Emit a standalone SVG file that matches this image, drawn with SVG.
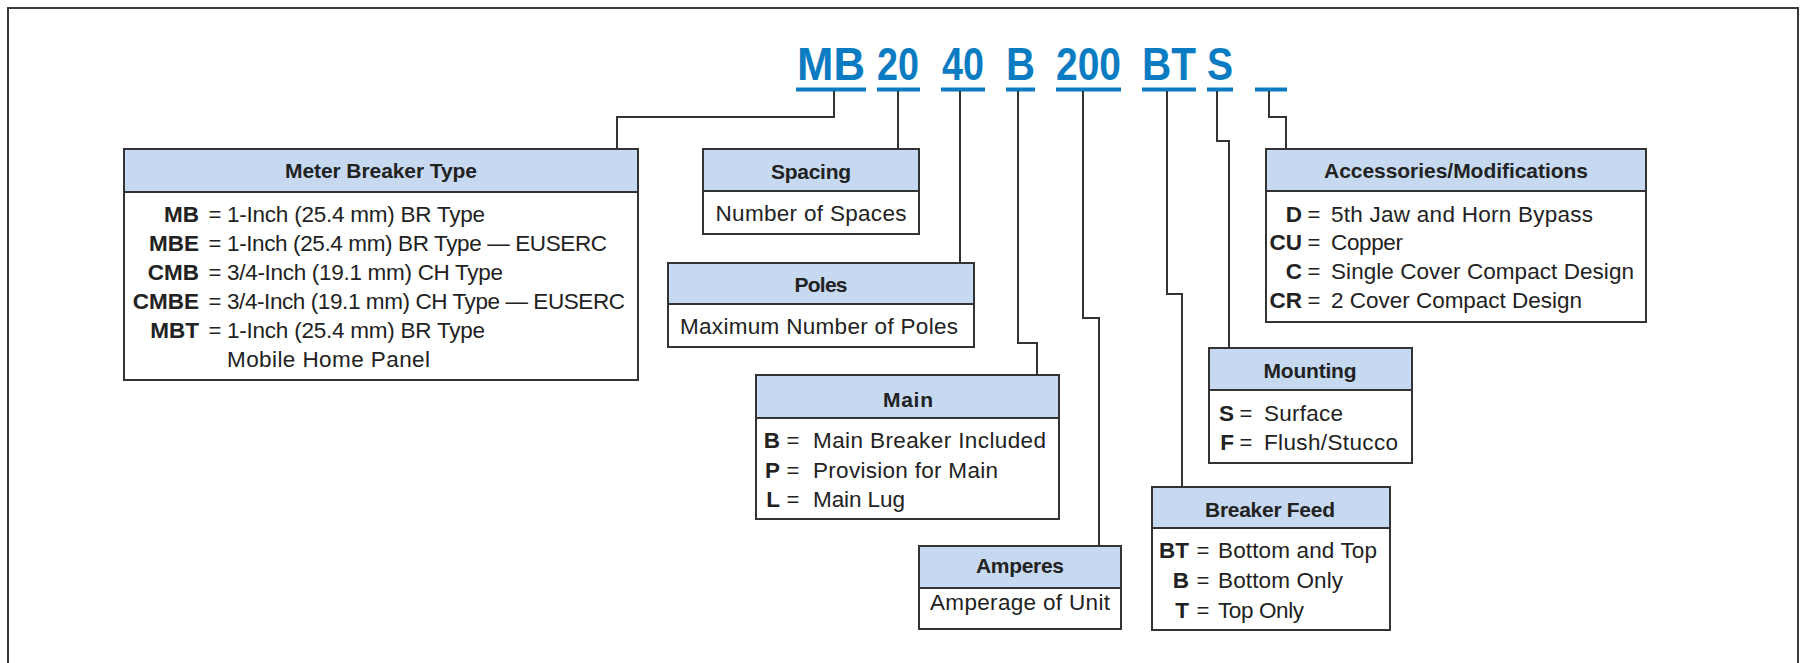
<svg xmlns="http://www.w3.org/2000/svg" width="1800" height="663" viewBox="0 0 1800 663">
<style>
.frame{fill:none;stroke:#3a3a3a;stroke-width:2}
.code{font-family:"Liberation Sans",Arial,sans-serif;font-weight:bold;font-size:46px;fill:#0b7cc2}
.ul{fill:#0b7cc2}
.conn{fill:none;stroke:#333;stroke-width:2}
.hdr{fill:#c6d9f0;stroke:#333;stroke-width:2}
.bdy{fill:#fff;stroke:#333;stroke-width:2}
.ht{font-family:"Liberation Sans",Arial,sans-serif;font-weight:bold;font-size:21px;fill:#222;text-anchor:middle}
.bt{font-family:"Liberation Sans",Arial,sans-serif;font-size:22.5px;fill:#222}
.bc{font-family:"Liberation Sans",Arial,sans-serif;font-weight:bold;font-size:22.5px;fill:#222;text-anchor:end}
.eq{font-family:"Liberation Sans",Arial,sans-serif;font-size:22px;fill:#222;text-anchor:middle}
.ctr{text-anchor:middle}
</style>
<rect width="1800" height="663" fill="#fff"/>
<path class="frame" d="M8,700 V8 H1798 V700"/>

<g id="code">
<text class="code" x="797" y="80" textLength="68" lengthAdjust="spacingAndGlyphs">MB</text>
<text class="code" x="877" y="80" textLength="42" lengthAdjust="spacingAndGlyphs">20</text>
<text class="code" x="942" y="80" textLength="42" lengthAdjust="spacingAndGlyphs">40</text>
<text class="code" x="1006" y="80" textLength="29" lengthAdjust="spacingAndGlyphs">B</text>
<text class="code" x="1056" y="80" textLength="65" lengthAdjust="spacingAndGlyphs">200</text>
<text class="code" x="1142" y="80" textLength="54" lengthAdjust="spacingAndGlyphs">BT</text>
<text class="code" x="1207" y="80" textLength="26" lengthAdjust="spacingAndGlyphs">S</text>
<rect class="ul" x="796" y="87.5" width="70" height="4"/>
<rect class="ul" x="877" y="87.5" width="43" height="4"/>
<rect class="ul" x="941" y="87.5" width="44" height="4"/>
<rect class="ul" x="1006" y="87.5" width="29" height="4"/>
<rect class="ul" x="1056" y="87.5" width="65" height="4"/>
<rect class="ul" x="1142" y="87.5" width="54" height="4"/>
<rect class="ul" x="1207" y="87.5" width="26" height="4"/>
<rect class="ul" x="1255" y="87.5" width="32" height="4"/>
</g>

<g id="connectors">
<path class="conn" d="M834,91 V117 H617 V149"/>
<path class="conn" d="M898,91 V149"/>
<path class="conn" d="M960,91 V263"/>
<path class="conn" d="M1018,91 V343 H1037 V375"/>
<path class="conn" d="M1083,91 V318 H1099 V546"/>
<path class="conn" d="M1167,91 V294 H1182 V487"/>
<path class="conn" d="M1217,91 V141 H1229 V348"/>
<path class="conn" d="M1269,91 V117 H1286 V149"/>
</g>

<g id="meter-breaker-type">
<rect class="bdy" x="124" y="149" width="514" height="231"/>
<rect class="hdr" x="124" y="149" width="514" height="43"/>
<text class="ht" x="381" y="178" textLength="192">Meter Breaker Type</text>
<text class="bc" x="199" y="222">MB</text><text class="eq" x="215" y="222">=</text><text class="bt" x="227" y="222" textLength="258">1-Inch (25.4 mm) BR Type</text>
<text class="bc" x="199" y="251">MBE</text><text class="eq" x="215" y="251">=</text><text class="bt" x="227" y="251" textLength="380">1-Inch (25.4 mm) BR Type — EUSERC</text>
<text class="bc" x="199" y="280">CMB</text><text class="eq" x="215" y="280">=</text><text class="bt" x="227" y="280" textLength="276">3/4-Inch (19.1 mm) CH Type</text>
<text class="bc" x="199" y="309">CMBE</text><text class="eq" x="215" y="309">=</text><text class="bt" x="227" y="309" textLength="398">3/4-Inch (19.1 mm) CH Type — EUSERC</text>
<text class="bc" x="199" y="338">MBT</text><text class="eq" x="215" y="338">=</text><text class="bt" x="227" y="338" textLength="258">1-Inch (25.4 mm) BR Type</text>
<text class="bt" x="227" y="367" textLength="203">Mobile Home Panel</text>
</g>

<g id="spacing">
<rect class="bdy" x="703" y="149" width="216" height="85"/>
<rect class="hdr" x="703" y="149" width="216" height="42"/>
<text class="ht" x="811" y="179" textLength="80">Spacing</text>
<text class="bt ctr" x="811" y="221" textLength="191">Number of Spaces</text>
</g>

<g id="poles">
<rect class="bdy" x="668" y="263" width="306" height="84"/>
<rect class="hdr" x="668" y="263" width="306" height="41"/>
<text class="ht" x="821" y="292" textLength="53">Poles</text>
<text class="bt ctr" x="819" y="334" textLength="278">Maximum Number of Poles</text>
</g>

<g id="main">
<rect class="bdy" x="756" y="375" width="303" height="144"/>
<rect class="hdr" x="756" y="375" width="303" height="43"/>
<text class="ht" x="908" y="407" textLength="50">Main</text>
<text class="bc" x="780" y="448">B</text><text class="eq" x="793" y="448">=</text><text class="bt" x="813" y="448" textLength="233">Main Breaker Included</text>
<text class="bc" x="780" y="478">P</text><text class="eq" x="793" y="478">=</text><text class="bt" x="813" y="478" textLength="185">Provision for Main</text>
<text class="bc" x="780" y="507">L</text><text class="eq" x="793" y="507">=</text><text class="bt" x="813" y="507" textLength="92">Main Lug</text>
</g>

<g id="amperes">
<rect class="bdy" x="919" y="546" width="202" height="83"/>
<rect class="hdr" x="919" y="546" width="202" height="42"/>
<text class="ht" x="1020" y="573" textLength="88">Amperes</text>
<text class="bt ctr" x="1020" y="610" textLength="180">Amperage of Unit</text>
</g>

<g id="breaker-feed">
<rect class="bdy" x="1152" y="487" width="238" height="143"/>
<rect class="hdr" x="1152" y="487" width="238" height="41"/>
<text class="ht" x="1270" y="517" textLength="130">Breaker Feed</text>
<text class="bc" x="1189" y="558">BT</text><text class="eq" x="1203" y="558">=</text><text class="bt" x="1218" y="558" textLength="159">Bottom and Top</text>
<text class="bc" x="1189" y="588">B</text><text class="eq" x="1203" y="588">=</text><text class="bt" x="1218" y="588" textLength="125">Bottom Only</text>
<text class="bc" x="1189" y="618">T</text><text class="eq" x="1203" y="618">=</text><text class="bt" x="1218" y="618" textLength="86">Top Only</text>
</g>

<g id="mounting">
<rect class="bdy" x="1209" y="348" width="203" height="115"/>
<rect class="hdr" x="1209" y="348" width="203" height="42"/>
<text class="ht" x="1310" y="378" textLength="93">Mounting</text>
<text class="bc" x="1234" y="421">S</text><text class="eq" x="1246" y="421">=</text><text class="bt" x="1264" y="421" textLength="79">Surface</text>
<text class="bc" x="1234" y="450">F</text><text class="eq" x="1246" y="450">=</text><text class="bt" x="1264" y="450" textLength="134">Flush/Stucco</text>
</g>

<g id="accessories">
<rect class="bdy" x="1266" y="149" width="380" height="173"/>
<rect class="hdr" x="1266" y="149" width="380" height="42"/>
<text class="ht" x="1456" y="178" textLength="264">Accessories/Modifications</text>
<text class="bc" x="1302" y="222">D</text><text class="eq" x="1314" y="222">=</text><text class="bt" x="1331" y="222" textLength="262">5th Jaw and Horn Bypass</text>
<text class="bc" x="1302" y="250">CU</text><text class="eq" x="1314" y="250">=</text><text class="bt" x="1331" y="250" textLength="72">Copper</text>
<text class="bc" x="1302" y="279">C</text><text class="eq" x="1314" y="279">=</text><text class="bt" x="1331" y="279" textLength="303">Single Cover Compact Design</text>
<text class="bc" x="1302" y="308">CR</text><text class="eq" x="1314" y="308">=</text><text class="bt" x="1331" y="308" textLength="251">2 Cover Compact Design</text>
</g>
</svg>
